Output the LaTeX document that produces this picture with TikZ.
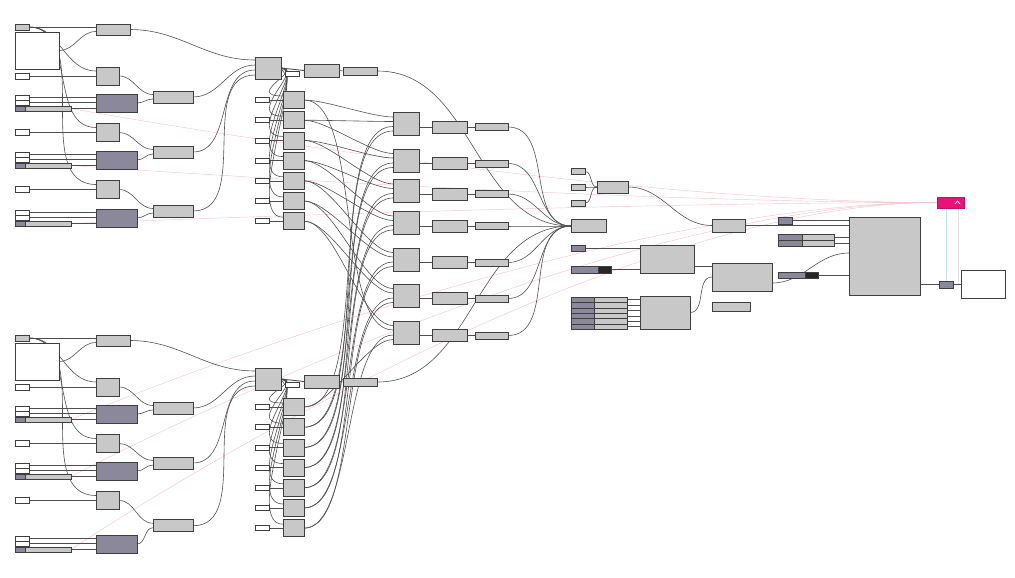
\documentclass[tikz,border=0pt]{standalone}
\usepackage{xcolor}
\usepackage{tikz}
\usetikzlibrary{calc, backgrounds}
\definecolor{boxgray}{RGB}{200,200,200}
\definecolor{slate}{RGB}{138,136,154}
\definecolor{edgecol}{RGB}{62,62,62}
\definecolor{wirecol}{RGB}{78,78,78}
\definecolor{genecol}{RGB}{244,196,206}
\definecolor{galacol}{RGB}{232,18,120}
\definecolor{linkcol}{RGB}{185,228,232}

\begin{document}
\begin{tikzpicture}[
    x=1pt, y=-1pt,
    gbox/.style 2 args={draw=edgecol, fill=boxgray, line width=0.6pt,
                        minimum width=#1pt, minimum height=#2pt,
                        inner sep=0pt, outer sep=0pt},
    dbox/.style 2 args={gbox={#1}{#2}, fill=slate},
    wbox/.style 2 args={gbox={#1}{#2}, fill=white},
    kbox/.style 2 args={gbox={#1}{#2}, fill=black!85},
    pbox/.style 2 args={gbox={#1}{#2}, fill=galacol, draw=galacol!85!black},
    wire/.style={draw=wirecol, line width=0.6pt},
    gene/.style={draw=genecol, line width=0.45pt},
    link/.style={draw=linkcol, line width=0.6pt},
  ]
  \useasboundingbox (0,0) rectangle (1015,578);

  % ── left groups: nodes ──
  \foreach \g/\dy/\dz/\qy in {t/0/0/100, b/311/15/407} {
    \node[gbox={14}{6}]  (\g-in)  at (22,27+\dy) {};
    \node[wbox={44}{37}] (\g-pan) at (37,50.5+\dy) {};
    \node[gbox={34}{11}] (\g-b0)  at (113,29.5+\dy) {};
    \foreach \i/\ys/\yk/\yc/\ez in {1/76/103/97/0, 2/132.5/160/152/0, 3/189.5/218/211/1} {
      \pgfmathsetmacro\yd{\yk+\dy+\ez*\dz}
      \node[wbox={14}{6}]  (\g-w\i)  at (22,\ys+\dy) {};
      \node[gbox={23}{18}] (\g-sq\i) at (107.5,\ys+\dy) {};
      \node[wbox={14}{5}]  (\g-wa\i) at (22,\yd-5.5) {};
      \node[wbox={14}{5}]  (\g-wb\i) at (22,\yd-0.5) {};
      \node[dbox={10}{5}]  (\g-sd\i) at (20,\yd+5.5) {};
      \node[gbox={46}{5}]  (\g-s\i)  at (48,\yd+5.5) {};
      \node[dbox={41}{18}] (\g-dk\i) at (116.5,\yd) {};
      \node[gbox={40}{12}] (\g-c\i)  at (173,\yc+\dy+\ez*\dz/4) {};
    }
    \node[gbox={26}{22}] (\g-big) at (268,68+\dy) {};
    \node[wbox={14}{5}]  (\g-o1)  at (292,74+\dy) {};
    \node[gbox={35}{13}] (\g-o2)  at (321.5,70.5+\dy) {};
    \node[gbox={34}{8}]  (\g-bar) at (360.5,71+\dy) {};
    \foreach \i in {1,...,7} {
      \node[wbox={14}{5}]  (\g-v\i) at (262,{\qy+20.2*(\i-1)}) {};
      \node[gbox={21}{17}] (\g-q\i) at (293.5,{\qy+20.2*(\i-1)}) {};
    }
  }

  % ── middle: lofts ──
  \foreach \j/\yy in {1/124, 2/160.5, 3/191, 4/223, 5/259.5, 6/295.5, 7/332.5} {
    \node[gbox={26}{23}] (m\j) at (406,\yy) {};
    \node[gbox={35}{12}] (n\j) at (449.5,\yy+3) {};
    \node[gbox={33}{7}]  (p\j) at (491.5,\yy+3) {};
  }
  \node[gbox={35}{13}] (mrg) at (588.5,226) {};

  % ── right side ──
  \foreach \k/\yy in {1/171.5, 2/187, 3/203}
    \node[gbox={14}{6}] (r\k) at (578,\yy) {};
  \node[gbox={31}{12}] (rb1) at (612.5,187) {};
  \node[gbox={33}{13}] (rb2) at (728.5,225.5) {};
  \node[dbox={14}{6}]  (rs0) at (578,248) {};
  \node[dbox={27}{7}]  (rd1) at (584.5,269.5) {};
  \node[kbox={13}{7}]  (rk1) at (604.5,269.5) {};
  \node[gbox={54}{28}] (rb3) at (667,259) {};
  \foreach \k in {1,...,6} {
    \node[dbox={23}{5.4}] (td\k) at (582.5,{297+5.4*(\k-0.5)}) {};
    \node[gbox={33}{5.4}] (tg\k) at (610.5,{297+5.4*(\k-0.5)}) {};
  }
  \node[gbox={50}{33}] (rb4) at (665,312.5) {};
  \node[gbox={60}{28}] (rb5) at (742,277) {};
  \node[gbox={38}{9}]  (rb6) at (731,306.5) {};
  \node[dbox={14}{7}]  (rs1) at (785,220.5) {};
  \foreach \k/\yy in {1/237, 2/243} {
    \node[dbox={24}{6}] (ra\k) at (790,\yy) {};
    \node[gbox={32}{6}] (rg\k) at (818,\yy) {};
  }
  \node[dbox={27}{6}]  (rd2) at (791.5,275) {};
  \node[kbox={13}{6}]  (rk2) at (811.5,275) {};
  \node[gbox={71}{78}] (solv) at (884.5,256) {};
  \node[pbox={27}{11}] (gal) at (950.5,202.5) {};
  \draw[white, line width=0.7pt] ($(gal.east)+(-9,1.5)$) -- ++(2.5,-3) -- ++(2.5,3);
  \node[dbox={14}{7}]  (outd) at (946,284.5) {};
  \node[wbox={44}{28}] (wout) at (983,284) {};

  \begin{scope}[on background layer]
    % ── galapagos genes ──
    \foreach \g in {t,b}
      \foreach \i in {1,2,3}
        \draw[gene] (\g-s\i.east) .. controls +(0,0) and +(-350,0) .. (gal.west);

    % ── left groups: wires ──
    \foreach \g in {t,b} {
      \draw[wire] (\g-in.east) -- (\g-in.east -| \g-b0.west);
      \draw[wire] (\g-pan.east) to[out=0,in=180] ([yshift=-2pt]\g-b0.west);
      \foreach \i/\s in {1/3, 2/-2, 3/-7} {
        \draw[wire] (\g-w\i.east) -- (\g-w\i.east -| \g-sq\i.west);
        \draw[wire] (\g-wa\i.east) -- (\g-wa\i.east -| \g-dk\i.west);
        \draw[wire] (\g-wb\i.east) -- (\g-wb\i.east -| \g-dk\i.west);
        \draw[wire] (\g-s\i.east) -- (\g-s\i.east -| \g-dk\i.west);
        \draw[wire] (\g-in.east) to[out=0,in=180] ([yshift=5pt]\g-sq\i.west);
        \draw[wire] (\g-sq\i.east) to[out=0,in=180] ([yshift=2.5pt]\g-c\i.west);
        \draw[wire] (\g-dk\i.east) to[out=0,in=180] ([yshift=-2pt]\g-c\i.west);
        \draw[wire] (\g-c\i.east) to[out=0,in=180] ([yshift=\s pt]\g-big.west);
      }
      \draw[wire] (\g-b0.east) to[out=0,in=180] ([yshift=8pt]\g-big.west);
      \draw[wire] (\g-big.east) -- (\g-o1.west);
      \draw[wire, line width=0.9pt] (\g-big.east) -- (\g-o2.west);
      \draw[wire] (\g-o2.east) -- (\g-bar.west);
      \foreach \i in {1,...,7} {
        \draw[wire] (\g-v\i.east) -- (\g-q\i.west);
        \draw[wire] (\g-big.east) .. controls +(25,0) and +(-40,0) .. ([yshift=4pt]\g-q\i.west);
      }
      \draw[wire] (\g-bar.east) to[out=0,in=180] (mrg.west);
    }

    % ── middle: columns to lofts ──
    \foreach \j in {1,...,7} {
      \pgfmathtruncatemacro\k{mod(\j,7)+1}
      \draw[wire] (t-q\j.east) to[out=0,in=180,looseness=0.6] ([yshift=7pt]m\j.west);
      \draw[wire] (t-q\k.east) to[out=0,in=180,looseness=0.6] ([yshift=2.5pt]m\j.west);
      \draw[wire] (b-q\j.east) to[out=0,in=180,looseness=0.6] ([yshift=-2.5pt]m\j.west);
      \draw[wire] (b-q\k.east) to[out=0,in=180,looseness=0.6] ([yshift=-7pt]m\j.west);
      \draw[wire] (m\j.east |- n\j.west) -- (n\j.west);
      \draw[wire] (n\j.east) -- (p\j.west);
      \draw[wire] (p\j.east) to[out=0,in=180] (mrg.west);
    }

    % ── right side ──
    \foreach \k in {1,2,3}
      \draw[wire] (r\k.east) to[out=0,in=180] (rb1.west);
    \draw[wire] (rb1.east) to[out=0,in=180] (rb2.west);
    \draw[wire] (rb2.east) -- (rb2.east -| solv.west);
    \draw[wire] (rs0.east) -- (rs0.east -| rb3.west);
    \draw[wire] (rk1.east) -- (rk1.east -| rb3.west);
    \foreach \k in {1,...,6}
      \draw[wire] (tg\k.east) -- (tg\k.east -| rb4.west);
    \coordinate (k1) at ($(rb3.east)+(0,7)$);
    \draw[wire] (k1) -- (k1 -| rb5.west);
    \draw[wire] (rb4.east) to[out=0,in=180] (rb5.west);
    \draw[wire] ([yshift=-6pt]rb5.east) to[out=0,in=180] ([yshift=3pt]solv.west);
    \draw[wire] (rs1.east) -- (rs1.east -| solv.west);
    \draw[wire] (rg1.east) -- (rg1.east -| solv.west);
    \draw[wire] (rg2.east) -- (rg2.east -| solv.west);
    \draw[wire] (rk2.east) -- (rk2.east -| solv.west);
    \draw[wire] (outd.west -| solv.east) -- (outd.west);
    \draw[wire] (outd.east) -- (outd.east -| wout.west);
    \draw[link] (outd.north |- gal.south) -- (outd.north);
    \coordinate (k3) at ([xshift=-3pt]wout.west);
    \draw[link, draw=black!12] (k3 |- gal.south) -- (k3);
  \end{scope}
\end{tikzpicture}
\end{document}
